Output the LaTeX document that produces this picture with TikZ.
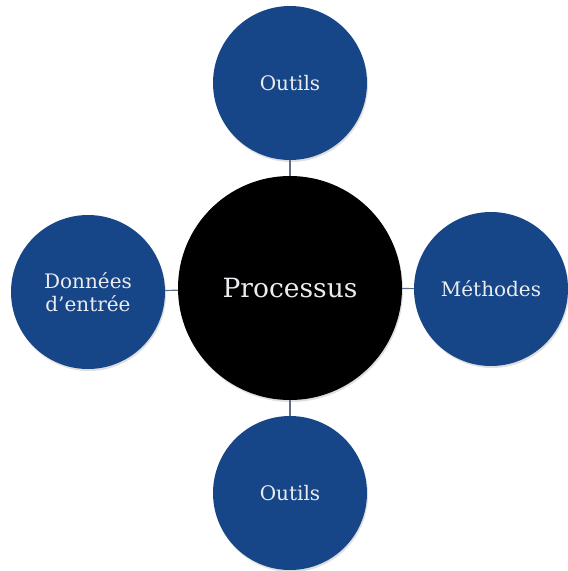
\documentclass[tikz,border=0pt]{standalone}
\usepackage{fontspec}
\setmainfont{DejaVu Serif}
\usetikzlibrary{shadows}
\definecolor{bulleblue}{RGB}{22,70,136}
\definecolor{liencol}{RGB}{95,110,135}
\definecolor{textecol}{RGB}{236,236,240}

\begin{document}
\begin{tikzpicture}[x=1pt, y=-1pt,
    % les bulles autour du centre
    bulle/.style={circle, fill=bulleblue, text=textecol, minimum size=154pt,
        inner sep=0pt, align=center, font=\fontsize{20}{23}\selectfont,
        drop shadow={opacity=0.25, shadow xshift=1pt, shadow yshift=-2pt}},
    centre/.style={bulle, fill=black, minimum size=224pt,
        font=\fontsize{26.5}{32}\selectfont},
    lien/.style={draw=liencol, line width=1.2pt}]
    \useasboundingbox (0,0) rectangle (568,571);
    \node[centre] (proc) at (290,288) {Processus};
    \node[bulle] (outhaut) at (290,83) {Outils};
    \node[bulle] (outbas) at (290,493) {Outils};
    \node[bulle] (donnees) at (88,292) {Données\\d'entrée};
    \node[bulle] (methodes) at (491,289) {Méthodes};
    \draw[lien] (proc) -- (outhaut);
    \draw[lien] (proc) -- (outbas);
    \draw[lien] (proc) -- (donnees);
    \draw[lien] (proc) -- (methodes);
\end{tikzpicture}
\end{document}
